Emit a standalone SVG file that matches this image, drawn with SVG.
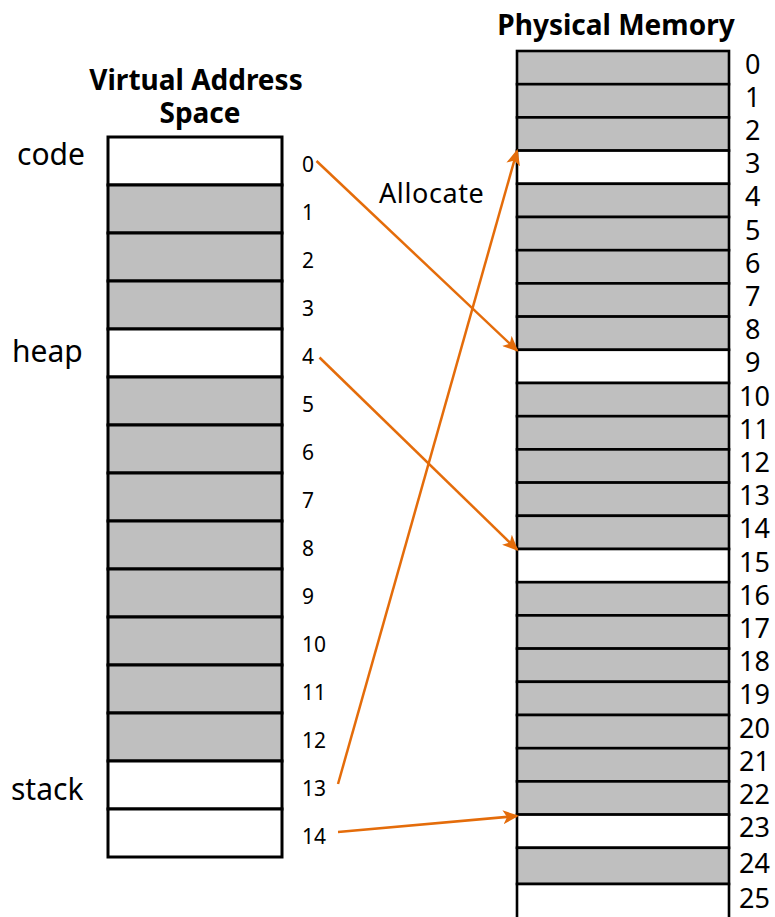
<svg xmlns="http://www.w3.org/2000/svg" width="775" height="917" viewBox="0 0 775 917">
  <style>
    .cell { stroke: #000; stroke-width: 3; }
    .used { fill: #bfbfbf; }
    .free { fill: #ffffff; }
    .pcell { stroke: #000; stroke-width: 2.6; }
    text { font-family: "Noto Sans", "Open Sans", sans-serif; fill: #000; }
    .title { font-size: 28px; font-weight: bold; text-anchor: middle; }
    .vnum { font-size: 21px; }
    .pnum { font-size: 27px; }
    .seg { font-size: 30px; }
    .lbl { font-size: 27px; letter-spacing: 0.6px; }
    .map { stroke: #e46c0a; stroke-width: 2.5; fill: none; marker-end: url(#head); }
  </style>
  <defs>
    <marker id="head" markerUnits="userSpaceOnUse" markerWidth="16" markerHeight="14" viewBox="0 0 16 14" refX="14" refY="7" orient="auto">
      <path d="M0,0 L16,7 L0,14 L4,7 Z" fill="#e46c0a"/>
    </marker>
  </defs>

  <!-- Virtual address space -->
  <g id="virtual-space">
    <text class="title" x="196" y="90">Virtual Address</text>
    <text class="title" x="200" y="123">Space</text>
    <rect class="cell free" x="108" y="137" width="174" height="48"/>
    <rect class="cell used" x="108" y="185" width="174" height="48"/>
    <rect class="cell used" x="108" y="233" width="174" height="48"/>
    <rect class="cell used" x="108" y="281" width="174" height="48"/>
    <rect class="cell free" x="108" y="329" width="174" height="48"/>
    <rect class="cell used" x="108" y="377" width="174" height="48"/>
    <rect class="cell used" x="108" y="425" width="174" height="48"/>
    <rect class="cell used" x="108" y="473" width="174" height="48"/>
    <rect class="cell used" x="108" y="521" width="174" height="48"/>
    <rect class="cell used" x="108" y="569" width="174" height="48"/>
    <rect class="cell used" x="108" y="617" width="174" height="48"/>
    <rect class="cell used" x="108" y="665" width="174" height="48"/>
    <rect class="cell used" x="108" y="713" width="174" height="48"/>
    <rect class="cell free" x="108" y="761" width="174" height="48"/>
    <rect class="cell free" x="108" y="809" width="174" height="48"/>
    <text class="seg" x="17" y="165">code</text>
    <text class="seg" x="12" y="362">heap</text>
    <text class="seg" x="11" y="800">stack</text>
    <g>
      <text class="vnum" x="302" y="172">0</text>
      <text class="vnum" x="302" y="220">1</text>
      <text class="vnum" x="302" y="268">2</text>
      <text class="vnum" x="302" y="316">3</text>
      <text class="vnum" x="302" y="364">4</text>
      <text class="vnum" x="302" y="412">5</text>
      <text class="vnum" x="302" y="460">6</text>
      <text class="vnum" x="302" y="508">7</text>
      <text class="vnum" x="302" y="556">8</text>
      <text class="vnum" x="302" y="604">9</text>
      <text class="vnum" x="302" y="652">10</text>
      <text class="vnum" x="302" y="700">11</text>
      <text class="vnum" x="302" y="748">12</text>
      <text class="vnum" x="302" y="796">13</text>
      <text class="vnum" x="302" y="844">14</text>
    </g>
  </g>

  <!-- Physical memory frames -->
  <g id="physical-memory">
    <text class="title" x="616" y="35">Physical Memory</text>
    <rect class="pcell used" x="517" y="51" width="212" height="33.2"/>
    <rect class="pcell used" x="517" y="84.2" width="212" height="33.2"/>
    <rect class="pcell used" x="517" y="117.4" width="212" height="33.2"/>
    <rect class="pcell free" x="517" y="150.6" width="212" height="33.2"/>
    <rect class="pcell used" x="517" y="183.8" width="212" height="33.2"/>
    <rect class="pcell used" x="517" y="217" width="212" height="33.2"/>
    <rect class="pcell used" x="517" y="250.2" width="212" height="33.2"/>
    <rect class="pcell used" x="517" y="283.4" width="212" height="33.2"/>
    <rect class="pcell used" x="517" y="316.6" width="212" height="33.2"/>
    <rect class="pcell free" x="517" y="349.8" width="212" height="33.2"/>
    <rect class="pcell used" x="517" y="383" width="212" height="33.2"/>
    <rect class="pcell used" x="517" y="416.2" width="212" height="33.2"/>
    <rect class="pcell used" x="517" y="449.4" width="212" height="33.2"/>
    <rect class="pcell used" x="517" y="482.6" width="212" height="33.2"/>
    <rect class="pcell used" x="517" y="515.8" width="212" height="33.2"/>
    <rect class="pcell free" x="517" y="549" width="212" height="33.2"/>
    <rect class="pcell used" x="517" y="582.2" width="212" height="33.2"/>
    <rect class="pcell used" x="517" y="615.4" width="212" height="33.2"/>
    <rect class="pcell used" x="517" y="648.6" width="212" height="33.2"/>
    <rect class="pcell used" x="517" y="681.8" width="212" height="33.2"/>
    <rect class="pcell used" x="517" y="715" width="212" height="33.2"/>
    <rect class="pcell used" x="517" y="748.2" width="212" height="33.2"/>
    <rect class="pcell used" x="517" y="781.4" width="212" height="33.2"/>
    <rect class="pcell free" x="517" y="814.6" width="212" height="33.2"/>
    <rect class="pcell used" x="517" y="847.8" width="212" height="36.2"/>
    <rect class="pcell free" x="517" y="884" width="212" height="40"/>
    <g>
      <text class="pnum" x="745" y="73.5">0</text>
      <text class="pnum" x="745" y="106.7">1</text>
      <text class="pnum" x="745" y="139.9">2</text>
      <text class="pnum" x="745" y="173.1">3</text>
      <text class="pnum" x="745" y="206.3">4</text>
      <text class="pnum" x="745" y="239.5">5</text>
      <text class="pnum" x="745" y="272.7">6</text>
      <text class="pnum" x="745" y="305.9">7</text>
      <text class="pnum" x="745" y="339.1">8</text>
      <text class="pnum" x="745" y="372.3">9</text>
      <text class="pnum" x="739" y="405.5">10</text>
      <text class="pnum" x="739" y="438.7">11</text>
      <text class="pnum" x="739" y="471.9">12</text>
      <text class="pnum" x="739" y="505.1">13</text>
      <text class="pnum" x="739" y="538.3">14</text>
      <text class="pnum" x="739" y="571.5">15</text>
      <text class="pnum" x="739" y="604.7">16</text>
      <text class="pnum" x="739" y="637.9">17</text>
      <text class="pnum" x="739" y="671.1">18</text>
      <text class="pnum" x="739" y="704.3">19</text>
      <text class="pnum" x="739" y="737.5">20</text>
      <text class="pnum" x="739" y="770.7">21</text>
      <text class="pnum" x="739" y="803.9">22</text>
      <text class="pnum" x="739" y="837.1">23</text>
      <text class="pnum" x="739" y="873">24</text>
      <text class="pnum" x="739" y="908">25</text>
    </g>
  </g>

  <!-- Page-to-frame mappings -->
  <g id="mappings">
    <line class="map" x1="316.5" y1="161" x2="517" y2="350.5"/>
    <line class="map" x1="319.5" y1="357.5" x2="517" y2="549.5"/>
    <line class="map" x1="338" y1="784" x2="517" y2="151"/>
    <line class="map" x1="338" y1="832" x2="517" y2="816"/>
    <text class="lbl" x="379" y="203">Allocate</text>
  </g>
</svg>
